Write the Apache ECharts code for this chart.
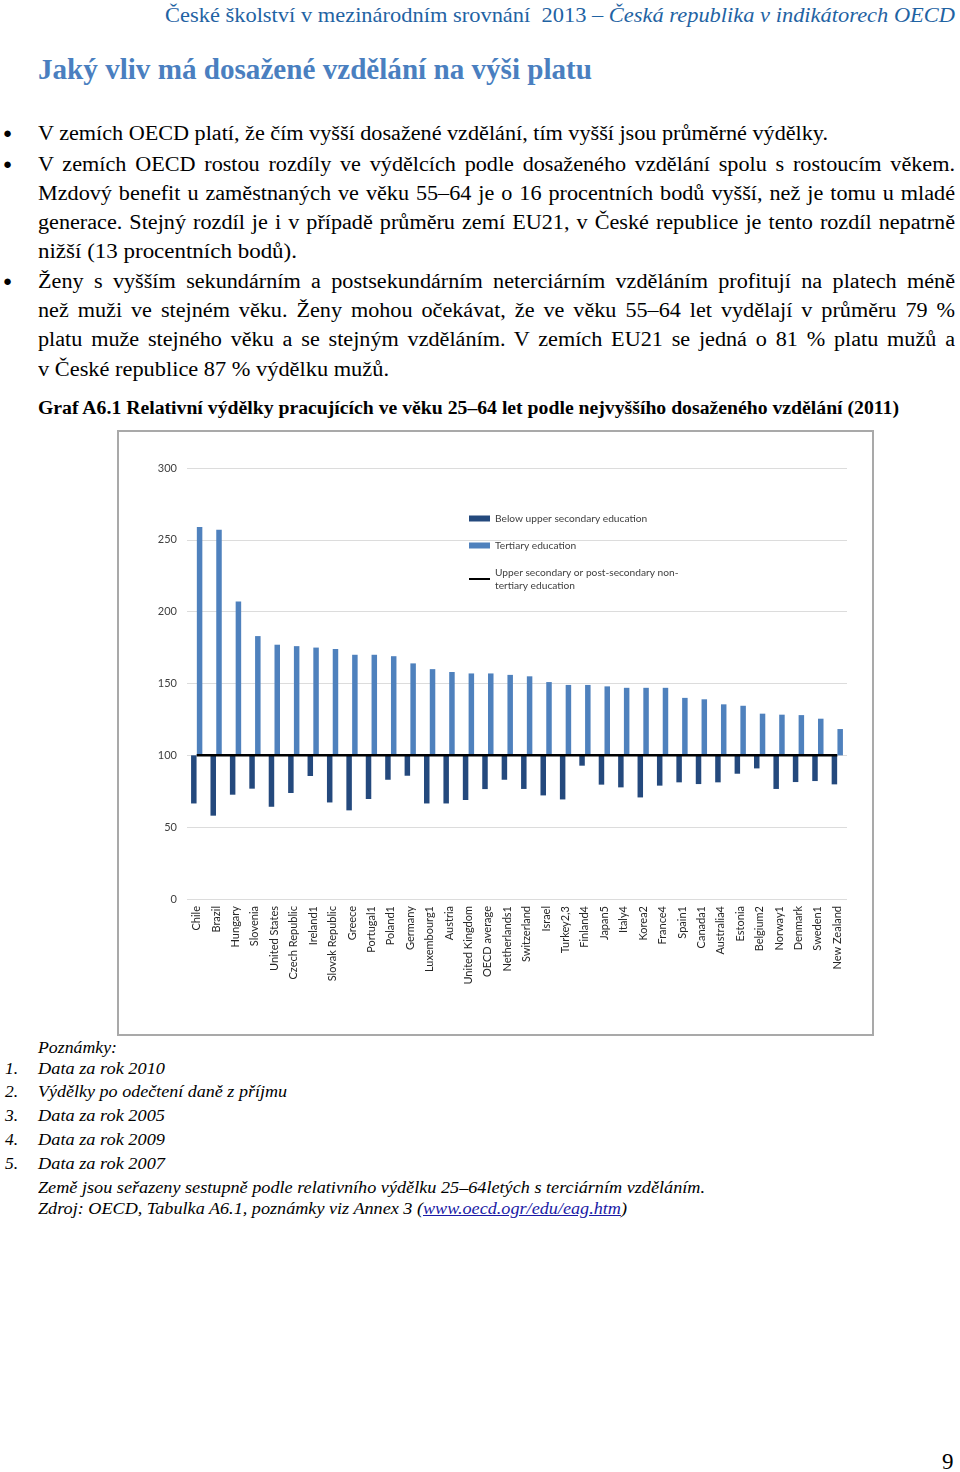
<!DOCTYPE html>
<html><head><meta charset="utf-8">
<script src="https://cdn.jsdelivr.net/npm/echarts@6/dist/echarts.min.js"></script>
<style>
html,body{margin:0;padding:0;background:#fff;}
body{width:960px;height:1472px;position:relative;overflow:hidden;font-family:"Liberation Serif",serif;color:#000;}
.t{position:absolute;white-space:nowrap;line-height:30px;height:30px;}
.fit,.jus,.bodyfit{transform-origin:0 50%;display:inline-block;}
.body{font-size:20.5px;left:38px;}
.bul{font-size:15px;left:3px;}
.note{font-style:italic;font-size:17.5px;line-height:24px;height:24px;}
#chartbox{position:absolute;left:117px;top:430px;width:757px;height:606px;box-sizing:border-box;border:2px solid #a9a9a9;}
#chart{position:absolute;left:0;top:0;width:753px;height:602px;}
</style></head>
<body>
<div class="t" id="hdr" style="top:0px;font-size:21px;color:#1f63a3;"><span class="fit" data-w="790" data-x="165">České školství v mezinárodním srovnání&nbsp; 2013 – <i>Česká republika v indikátorech OECD</i></span></div>
<div class="t" id="ttl" style="top:54px;font-size:29.5px;font-weight:bold;color:#4a7fc0;"><span class="fit" data-w="554" data-x="38">Jaký vliv má dosažené vzdělání na výši platu</span></div>

<div class="t bul" style="top:118px;">●</div>
<div class="t bul" style="top:149px;">●</div>
<div class="t bul" style="top:266px;">●</div>

<div class="t body" style="top:118px;"><span class="fit" id="l1" data-w="790" data-x="38">V zemích OECD platí, že čím vyšší dosažené vzdělání, tím vyšší jsou průměrné výdělky.</span></div>
<div class="t body" style="top:149px;"><span class="jus">V zemích OECD rostou rozdíly ve výdělcích podle dosaženého vzdělání spolu s rostoucím věkem.</span></div>
<div class="t body" style="top:178px;"><span class="jus">Mzdový benefit u zaměstnaných ve věku 55–64 je o 16 procentních bodů vyšší, než je tomu u mladé</span></div>
<div class="t body" style="top:207px;"><span class="jus">generace. Stejný rozdíl je i v případě průměru zemí EU21, v České republice je tento rozdíl nepatrně</span></div>
<div class="t body" style="top:236px;"><span class="fit" data-w="259" data-x="38">nižší (13 procentních bodů).</span></div>
<div class="t body" style="top:266px;"><span class="jus">Ženy s vyšším sekundárním a postsekundárním neterciárním vzděláním profitují na platech méně</span></div>
<div class="t body" style="top:295px;"><span class="jus">než muži ve stejném věku. Ženy mohou očekávat, že ve věku 55–64 let vydělají v průměru 79 %</span></div>
<div class="t body" style="top:324px;"><span class="jus">platu muže stejného věku a se stejným vzděláním. V zemích EU21 se jedná o 81 % platu mužů a</span></div>
<div class="t body" style="top:354px;"><span class="fit" data-w="351" data-x="38">v České republice 87 % výdělku mužů.</span></div>

<div class="t" style="top:393px;font-size:18.5px;font-weight:bold;"><span class="fit" data-w="861" data-x="38">Graf A6.1 Relativní výdělky pracujících ve věku 25–64 let podle nejvyššího dosaženého vzdělání (2011)</span></div>

<div id="chartbox"><div id="chart"></div></div>

<div class="t note" style="top:1035px;"><span class="fit" data-w="79" data-x="38">Poznámky:</span></div>
<div class="t note" style="top:1056px;left:5px;">1.</div><div class="t note" style="top:1056px;"><span class="fit" data-w="127" data-x="38">Data za rok 2010</span></div>
<div class="t note" style="top:1079px;left:5px;">2.</div><div class="t note" style="top:1079px;"><span class="fit" data-w="249" data-x="38">Výdělky po odečtení daně z příjmu</span></div>
<div class="t note" style="top:1103px;left:5px;">3.</div><div class="t note" style="top:1103px;"><span class="fit" data-w="127" data-x="38">Data za rok 2005</span></div>
<div class="t note" style="top:1127px;left:5px;">4.</div><div class="t note" style="top:1127px;"><span class="fit" data-w="127" data-x="38">Data za rok 2009</span></div>
<div class="t note" style="top:1151px;left:5px;">5.</div><div class="t note" style="top:1151px;"><span class="fit" data-w="127" data-x="38">Data za rok 2007</span></div>
<div class="t note" style="top:1175px;"><span class="fit" data-w="667" data-x="38">Země jsou seřazeny sestupně podle relativního výdělku 25–64letých s terciárním vzděláním.</span></div>
<div class="t note" style="top:1196px;"><span class="fit" data-w="589" data-x="38">Zdroj: OECD, Tabulka A6.1, poznámky viz Annex 3 (<span style="color:#1a1aa6;text-decoration:underline;">www.oecd.ogr/edu/eag.htm</span>)</span></div>

<div class="t" style="top:1447px;left:942px;font-size:23px;">9</div>

<script>
// ---- data ----
const categories = ['Chile','Brazil','Hungary','Slovenia','United States','Czech Republic','Ireland1','Slovak Republic','Greece','Portugal1','Poland1','Germany','Luxembourg1','Austria','United Kingdom','OECD average','Netherlands1','Switzerland','Israel','Turkey2,3','Finland4','Japan5','Italy4','Korea2','France4','Spain1','Canada1','Australia4','Estonia','Belgium2','Norway1','Denmark','Sweden1','New Zealand'];
const tertiary = [259,257,207,183,177,176,175,174,170,170,169,164,160,158,157,157,156,155,151,149,149,148,147,147,147,140,139,135.5,134.5,129,128.3,128,125.5,118.3];
const belowUpperSecondary = [66.5,58,72.6,76.8,64.2,73.8,85.6,67.2,61.7,69.6,83,85.8,66.5,66.5,68.9,76.5,83,76.6,72.1,69.3,92.8,79.6,77.7,70.7,78.9,81.2,80,81.2,87.2,90.9,76.6,81.4,82.1,79.8];
const upperSecondary = [100,100,100,100,100,100,100,100,100,100,100,100,100,100,100,100,100,100,100,100,100,100,100,100,100,100,100,100,100,100,100,100,100,100];
const yTicks = [0,50,100,150,200,250,300];

// ---- text fitting ----
const l1w = document.getElementById('l1').getBoundingClientRect().width;
const bodyScale = 790 / l1w;
document.querySelectorAll('.fit').forEach(el=>{
  const w = el.getBoundingClientRect().width;
  const target = +el.dataset.w;
  el.parentElement.style.left = el.dataset.x + 'px';
  el.style.transform = 'scaleX(' + (target/w) + ')';
});
document.querySelectorAll('.jus').forEach(el=>{
  const w = el.getBoundingClientRect().width;
  const spaces = (el.textContent.match(/ /g)||[]).length;
  el.style.wordSpacing = ((917/bodyScale - w)/spaces) + 'px';
  el.style.transform = 'scaleX(' + bodyScale + ')';
});

// ---- chart ----
const chart = echarts.init(document.getElementById('chart'), null, {renderer:'canvas'});
const font = 'Lato';
const darkBlue = '#24497d', midBlue = '#4f81bd';
const lineName = 'Upper secondary or post-secondary non-tertiary education';
chart.setOption({
  animation:false,
  textStyle:{fontFamily:font},
  grid:{left:68,top:36,width:660,height:431,containLabel:false},
  legend:{
    orient:'vertical', left:345, top:75, itemGap:14, itemWidth:21, itemHeight:6,
    textStyle:{fontFamily:font,fontSize:10.2,color:'#404040',lineHeight:13},
    data:[
      {name:'Below upper secondary education', icon:'rect'},
      {name:'Tertiary education', icon:'rect'},
      {name:lineName, icon:'path://M0,0h21v2h-21z'}
    ],
    formatter:function(n){ return n===lineName ? 'Upper secondary or post-secondary non-\ntertiary education' : n; }
  },
  xAxis:{
    type:'category', data:categories,
    axisLine:{show:false}, axisTick:{show:false},
    axisLabel:{rotate:90, interval:0, margin:7, fontFamily:font, fontSize:11, color:'#262626'}
  },
  yAxis:{
    type:'value', min:0, max:300, interval:50,
    axisLine:{show:false}, axisTick:{show:false},
    splitLine:{lineStyle:{color:'#dcdcdc',width:1}},
    axisLabel:{margin:10, fontFamily:font, fontSize:11, color:'#404040'}
  },
  series:[
    {name:'_bbase', type:'bar', stack:'b', data:belowUpperSecondary, itemStyle:{color:'transparent'}, barWidth:5.5, barGap:'5%', silent:true},
    {name:'Below upper secondary education', type:'bar', stack:'b', data:belowUpperSecondary.map((v,i)=>upperSecondary[i]-v), itemStyle:{color:darkBlue}, barWidth:5.5},
    {name:'_tbase', type:'bar', stack:'t', data:upperSecondary, itemStyle:{color:'transparent'}, barWidth:5.5, silent:true},
    {name:'Tertiary education', type:'bar', stack:'t', data:tertiary.map((v,i)=>v-upperSecondary[i]), itemStyle:{color:midBlue}, barWidth:5.5},
    {name:lineName, type:'line', data:upperSecondary, symbol:'none', lineStyle:{color:'#000',width:2.5}, itemStyle:{color:'#000'}, z:5}
  ]
});
</script>
</body></html>
